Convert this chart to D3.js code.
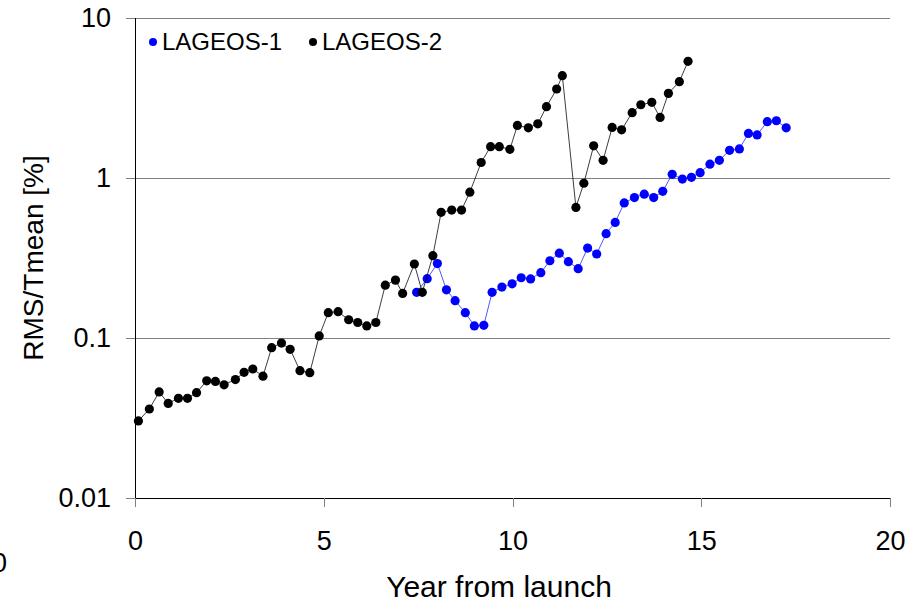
<!DOCTYPE html>
<html>
<head>
<meta charset="utf-8">
<script src="https://cdn.jsdelivr.net/npm/d3@7/dist/d3.min.js"></script>
<style>
  html, body { margin: 0; padding: 0; background: #fff; }
  svg { display: block; font-family: "Liberation Sans", Arial, sans-serif; }
</style>
</head>
<body>
<svg id="chart" width="920" height="602"></svg>
<script>
// LAGEOS-1: years since launch and relative RMS of spin period [%]
const lageos1Years = [7.46, 7.74, 8.01, 8.25, 8.48, 8.75, 8.99, 9.24, 9.46, 9.72,
  9.99, 10.23, 10.48, 10.75, 10.99, 11.24, 11.48, 11.74, 11.99, 12.23,
  12.48, 12.72, 12.96, 13.23, 13.49, 13.74, 13.98, 14.23, 14.50, 14.74,
  14.97, 15.23, 15.48, 15.75, 16.01, 16.25, 16.48, 16.75, 16.99, 17.25];
const lageos1Values = [0.193, 0.235, 0.292, 0.200, 0.171, 0.144, 0.119, 0.120, 0.193, 0.208,
  0.218, 0.238, 0.234, 0.256, 0.304, 0.339, 0.300, 0.271, 0.365, 0.335,
  0.449, 0.528, 0.699, 0.755, 0.792, 0.755, 0.825, 1.055, 0.985, 1.010,
  1.080, 1.220, 1.290, 1.490, 1.520, 1.900, 1.860, 2.250, 2.280, 2.060];

// LAGEOS-2
const lageos2Years = [0.09, 0.38, 0.64, 0.88, 1.15, 1.39, 1.63, 1.90, 2.13, 2.36,
  2.66, 2.89, 3.12, 3.39, 3.62, 3.88, 4.11, 4.37, 4.63, 4.88,
  5.12, 5.38, 5.66, 5.90, 6.14, 6.38, 6.63, 6.90, 7.09, 7.40,
  7.61, 7.89, 8.11, 8.39, 8.65, 8.87, 9.17, 9.42, 9.65, 9.93,
  10.13, 10.42, 10.67, 10.90, 11.17, 11.32, 11.68, 11.89, 12.15, 12.40,
  12.64, 12.89, 13.17, 13.40, 13.69, 13.91, 14.13, 14.42, 14.65];
const lageos2Values = [0.0303, 0.036, 0.046, 0.039, 0.042, 0.042, 0.0455, 0.054, 0.0535, 0.051,
  0.055, 0.061, 0.064, 0.0577, 0.087, 0.093, 0.085, 0.0625, 0.0607, 0.103,
  0.144, 0.146, 0.130, 0.125, 0.119, 0.125, 0.214, 0.230, 0.190, 0.290,
  0.193, 0.327, 0.61, 0.63, 0.63, 0.815, 1.25, 1.57, 1.57, 1.51,
  2.13, 2.06, 2.18, 2.79, 3.60, 4.36, 0.655, 0.927, 1.59, 1.29,
  2.07, 2.00, 2.56, 2.87, 2.97, 2.39, 3.38, 4.00, 5.36];

const seriesNames = ["LAGEOS-1", "LAGEOS-2"];
const seriesColors = ["#0000ff", "#000000"];
const xTicks = [0, 5, 10, 15, 20];
const yTicks = [0.01, 0.1, 1, 10];
const yTickLabels = ["0.01", "0.1", "1", "10"];

const svg = d3.select("#chart");
const plotLeft = 135, plotRight = 890, plotTop = 18, plotBottom = 498;

const x = d3.scaleLinear().domain([0, 20]).range([plotLeft, plotRight]);
const y = d3.scaleLog().domain([0.01, 10]).range([plotBottom, plotTop]);

// horizontal gridlines at each decade
svg.append("g")
  .selectAll("line")
  .data(yTicks.slice(1))
  .join("line")
  .attr("x1", plotLeft).attr("x2", plotRight)
  .attr("y1", d => y(d)).attr("y2", d => y(d))
  .attr("stroke", "#808080").attr("stroke-width", 1)
  .attr("shape-rendering", "crispEdges");

// y axis
const yAxis = svg.append("g")
  .attr("transform", `translate(${plotLeft},0)`)
  .call(d3.axisLeft(y).tickValues(yTicks).tickFormat((d, i) => yTickLabels[i]).tickSize(9).tickPadding(15));
yAxis.select(".domain").attr("stroke", "#000").attr("shape-rendering", "crispEdges");
yAxis.selectAll(".tick line").attr("stroke", "#808080").attr("shape-rendering", "crispEdges");
yAxis.selectAll(".tick text").attr("font-size", 27).attr("fill", "#000")
  .attr("font-family", "'Liberation Sans', Arial, sans-serif");

// x axis
const xAxis = svg.append("g")
  .attr("transform", `translate(0,${plotBottom})`)
  .call(d3.axisBottom(x).tickValues(xTicks).tickFormat(d3.format("d")).tickSize(9).tickPadding(24));
xAxis.select(".domain").attr("stroke", "#000").attr("shape-rendering", "crispEdges");
xAxis.selectAll(".tick line").attr("stroke", "#808080").attr("shape-rendering", "crispEdges");
xAxis.selectAll(".tick text").attr("font-size", 27).attr("fill", "#000")
  .attr("font-family", "'Liberation Sans', Arial, sans-serif");

// axis titles
svg.append("text")
  .attr("transform", `translate(43,258) rotate(-90)`)
  .attr("text-anchor", "middle")
  .attr("font-size", 28)
  .text("RMS/Tmean [%]");

svg.append("text")
  .attr("x", 499).attr("y", 597)
  .attr("text-anchor", "middle")
  .attr("font-size", 30)
  .text("Year from launch");

// stray label at the lower left edge
svg.append("text")
  .attr("x", -8).attr("y", 572)
  .attr("font-size", 27)
  .text("0");

// series: line + markers
const series = [
  { years: lageos1Years, values: lageos1Values },
  { years: lageos2Years, values: lageos2Values }
];
const line = d3.line().x(d => x(d[0])).y(d => y(d[1]));

series.forEach((s, i) => {
  const pts = s.years.map((yr, k) => [yr, s.values[k]]);
  const g = svg.append("g");
  g.append("path")
    .datum(pts)
    .attr("d", line)
    .attr("fill", "none")
    .attr("stroke", seriesColors[i])
    .attr("stroke-width", 0.9)
    .attr("stroke-opacity", i === 0 ? 0.75 : 0.85);
  g.selectAll("circle")
    .data(pts)
    .join("circle")
    .attr("cx", d => x(d[0]))
    .attr("cy", d => y(d[1]))
    .attr("r", 4.6)
    .attr("fill", seriesColors[i]);
});

// legend
const legendX = [153, 313];
seriesNames.forEach((name, i) => {
  svg.append("circle")
    .attr("cx", legendX[i]).attr("cy", 42).attr("r", 4)
    .attr("fill", seriesColors[i]);
  svg.append("text")
    .attr("x", legendX[i] + 9).attr("y", 50)
    .attr("font-size", 24)
    .text(name);
});
</script>
</body>
</html>
